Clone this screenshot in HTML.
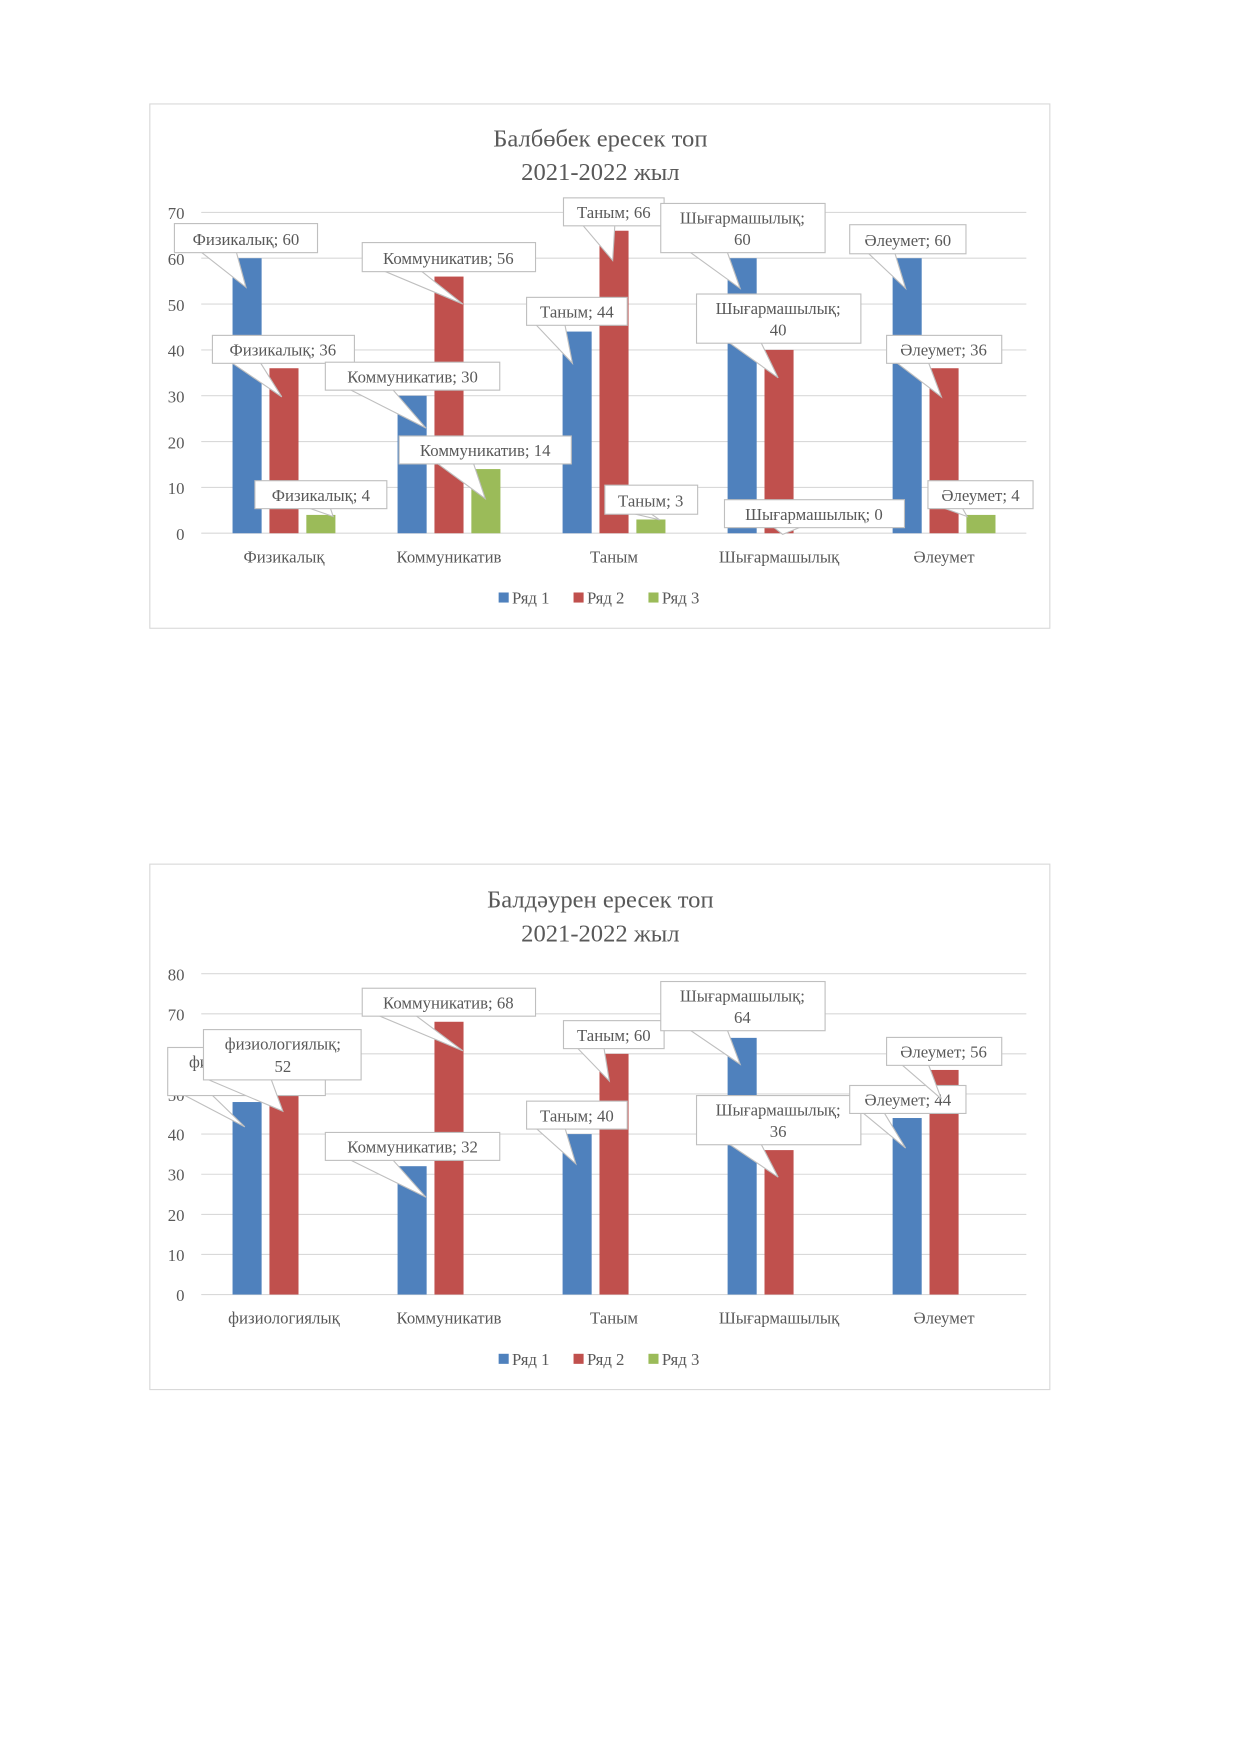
<!DOCTYPE html>
<html><head><meta charset="utf-8"><style>
html,body{margin:0;padding:0;background:#fff;}
svg{display:block;}
text{font-family:"Liberation Serif",serif;fill:#595959;}
.t{font-size:22px;}
.a{font-size:15px;}
.c{font-size:15px;}
.g{stroke:#d9d9d9;stroke-width:1;}
.w{fill:#fff;stroke:#bfbfbf;stroke-width:1;}
.b{fill:#4f81bd}.r{fill:#c0504d}.n{fill:#9bbb59}
</style></head><body>
<svg width="1241" height="1754" viewBox="0 0 1110 1569" preserveAspectRatio="none">
<!-- CHART 1 -->
<rect x="134" y="93" width="805" height="469" fill="#fff" stroke="#d9d9d9"/>
<text class="t" x="537" y="131" text-anchor="middle">Балбөбек ересек топ</text>
<text class="t" x="537" y="161" text-anchor="middle">2021-2022 жыл</text>
<g class="g">
<line x1="180" x2="918" y1="190" y2="190"/><line x1="180" x2="918" y1="231" y2="231"/>
<line x1="180" x2="918" y1="272" y2="272"/><line x1="180" x2="918" y1="313" y2="313"/>
<line x1="180" x2="918" y1="354" y2="354"/><line x1="180" x2="918" y1="395" y2="395"/>
<line x1="180" x2="918" y1="436" y2="436"/><line x1="180" x2="918" y1="477" y2="477"/>
</g>
<g class="a" text-anchor="end">
<text x="165" y="196">70</text><text x="165" y="237">60</text><text x="165" y="278">50</text>
<text x="165" y="319">40</text><text x="165" y="360">30</text><text x="165" y="401">20</text>
<text x="165" y="442">10</text><text x="165" y="483">0</text>
</g>
<rect class="b" x="208" y="231" width="26" height="246"/><rect class="r" x="241" y="329.4" width="26" height="147.6"/><rect class="n" x="274" y="460.6" width="26" height="16.4"/>
<rect class="b" x="355.6" y="354" width="26" height="123"/><rect class="r" x="388.6" y="247.4" width="26" height="229.6"/><rect class="n" x="421.6" y="419.6" width="26" height="57.4"/>
<rect class="b" x="503.2" y="296.6" width="26" height="180.4"/><rect class="r" x="536.2" y="206.4" width="26" height="270.6"/><rect class="n" x="569.2" y="464.7" width="26" height="12.3"/>
<rect class="b" x="650.8" y="231" width="26" height="246"/><rect class="r" x="683.8" y="313" width="26" height="164"/>
<rect class="b" x="798.4" y="231" width="26" height="246"/><rect class="r" x="831.4" y="329.4" width="26" height="147.6"/><rect class="n" x="864.4" y="460.6" width="26" height="16.4"/>
<g class="c" text-anchor="middle">
<text x="254" y="503">Физикалық</text><text x="401.6" y="503">Коммуникатив</text><text x="549.2" y="503">Таным</text><text x="696.8" y="503">Шығармашылық</text><text x="844.4" y="503">Әлеумет</text>
</g>
<rect class="b" x="446" y="530" width="9" height="9"/><text class="c" x="458" y="540">Ряд 1</text>
<rect class="r" x="513" y="530" width="9" height="9"/><text class="c" x="525" y="540">Ряд 2</text>
<rect class="n" x="580" y="530" width="9" height="9"/><text class="c" x="592" y="540">Ряд 3</text>
<g class="c" text-anchor="middle">
<polygon class="w" points="178,224 211,224 220,257"/><rect class="w" x="156" y="200" width="128" height="26"/><text x="220" y="219">Физикалық; 60</text>
<polygon class="w" points="205,323 232,323 252,355"/><rect class="w" x="190" y="300" width="127" height="25"/><text x="253" y="318">Физикалық; 36</text>
<polygon class="w" points="272,453 295,453 298,462"/><rect class="w" x="228" y="430" width="118" height="25"/><text x="287" y="448">Физикалық; 4</text>
<polygon class="w" points="340,241 375,241 414,272"/><rect class="w" x="324" y="217" width="155" height="26"/><text x="401" y="236">Коммуникатив; 56</text>
<polygon class="w" points="310,347 350,347 381,383"/><rect class="w" x="291" y="324" width="156" height="25"/><text x="369" y="342">Коммуникатив; 30</text>
<polygon class="w" points="389,413 423,413 434,446"/><rect class="w" x="357" y="390" width="154" height="25"/><text x="434" y="408">Коммуникатив; 14</text>
<polygon class="w" points="520,200 550,200 548,233"/><rect class="w" x="504" y="177" width="90" height="25"/><text x="549" y="195">Таным; 66</text>
<polygon class="w" points="478,289 505,289 512,325"/><rect class="w" x="471" y="266" width="90" height="25"/><text x="516" y="284">Таным; 44</text>
<polygon class="w" points="560,458 580,458 590,465"/><rect class="w" x="541" y="434" width="83" height="26"/><text x="582" y="453">Таным; 3</text>
<polygon class="w" points="615,224 650,224 662,258"/><rect class="w" x="591" y="182" width="147" height="44"/><text x="664" y="200">Шығармашылық;</text><text x="664" y="219">60</text>
<polygon class="w" points="650,305 680,305 696,338"/><rect class="w" x="623" y="263" width="147" height="44"/><text x="696" y="281">Шығармашылық;</text><text x="696" y="300">40</text>
<polygon class="w" points="690,470 720,470 700,478"/><rect class="w" x="648" y="447" width="161" height="25"/><text x="728" y="465">Шығармашылық; 0</text>
<polygon class="w" points="775,225 800,225 810,258"/><rect class="w" x="760" y="201" width="104" height="26"/><text x="812" y="220">Әлеумет; 60</text>
<polygon class="w" points="800,323 830,323 842,355"/><rect class="w" x="793" y="300" width="103" height="25"/><text x="844" y="318">Әлеумет; 36</text>
<polygon class="w" points="840,453 860,453 865,462"/><rect class="w" x="830" y="430" width="94" height="25"/><text x="877" y="448">Әлеумет; 4</text>
</g>

<!-- CHART 2 -->
<rect x="134" y="773" width="805" height="470" fill="#fff" stroke="#d9d9d9"/>
<text class="t" x="537" y="812" text-anchor="middle">Балдәурен ересек топ</text>
<text class="t" x="537" y="842" text-anchor="middle">2021-2022 жыл</text>
<g class="g">
<line x1="180" x2="918" y1="871" y2="871"/><line x1="180" x2="918" y1="906.9" y2="906.9"/>
<line x1="180" x2="918" y1="942.7" y2="942.7"/><line x1="180" x2="918" y1="978.6" y2="978.6"/>
<line x1="180" x2="918" y1="1014.5" y2="1014.5"/><line x1="180" x2="918" y1="1050.4" y2="1050.4"/>
<line x1="180" x2="918" y1="1086.3" y2="1086.3"/><line x1="180" x2="918" y1="1122.1" y2="1122.1"/>
<line x1="180" x2="918" y1="1158" y2="1158"/>
</g>
<g class="a" text-anchor="end">
<text x="165" y="877">80</text><text x="165" y="913">70</text><text x="165" y="949">60</text>
<text x="165" y="985">50</text><text x="165" y="1020">40</text><text x="165" y="1056">30</text>
<text x="165" y="1092">20</text><text x="165" y="1128">10</text><text x="165" y="1164">0</text>
</g>
<rect class="b" x="208" y="985.8" width="26" height="172.2"/><rect class="r" x="241" y="975" width="26" height="183"/>
<rect class="b" x="355.6" y="1043.2" width="26" height="114.8"/><rect class="r" x="388.6" y="914" width="26" height="244"/>
<rect class="b" x="503.2" y="1014.5" width="26" height="143.5"/><rect class="r" x="536.2" y="942.7" width="26" height="215.3"/>
<rect class="b" x="650.8" y="928.4" width="26" height="229.6"/><rect class="r" x="683.8" y="1028.8" width="26" height="129.2"/>
<rect class="b" x="798.4" y="1000.1" width="26" height="157.9"/><rect class="r" x="831.4" y="957.1" width="26" height="200.9"/>
<g class="c" text-anchor="middle">
<text x="254" y="1184">физиологиялық</text><text x="401.6" y="1184">Коммуникатив</text><text x="549.2" y="1184">Таным</text><text x="696.8" y="1184">Шығармашылық</text><text x="844.4" y="1184">Әлеумет</text>
</g>
<rect class="b" x="446" y="1211" width="9" height="9"/><text class="c" x="458" y="1221">Ряд 1</text>
<rect class="r" x="513" y="1211" width="9" height="9"/><text class="c" x="525" y="1221">Ряд 2</text>
<rect class="n" x="580" y="1211" width="9" height="9"/><text class="c" x="592" y="1221">Ряд 3</text>
<g class="c" text-anchor="middle">
<polygon class="w" points="156,975 185,975 219,1008"/><rect class="w" x="150" y="937" width="141" height="43"/><text x="221" y="955">физиологиялық;</text>
<polygon class="w" points="182,964 242,964 253,994"/><rect class="w" x="182" y="921" width="141" height="45"/><text x="253" y="939">физиологиялық;</text><text x="253" y="959">52</text>
<polygon class="w" points="335,907 370,907 414,940"/><rect class="w" x="324" y="884" width="155" height="25"/><text x="401" y="902">Коммуникатив; 68</text>
<polygon class="w" points="310,1036 350,1036 381,1071"/><rect class="w" x="291" y="1013" width="156" height="25"/><text x="369" y="1031">Коммуникатив; 32</text>
<polygon class="w" points="515,936 540,936 545,967"/><rect class="w" x="504" y="913" width="90" height="25"/><text x="549" y="931">Таным; 60</text>
<polygon class="w" points="478,1008 505,1008 515,1041"/><rect class="w" x="471" y="985" width="90" height="25"/><text x="516" y="1003">Таным; 40</text>
<polygon class="w" points="615,920 650,920 662,952"/><rect class="w" x="591" y="878" width="147" height="44"/><text x="664" y="896">Шығармашылық;</text><text x="664" y="915">64</text>
<polygon class="w" points="650,1022 680,1022 696,1053"/><rect class="w" x="623" y="980" width="147" height="44"/><text x="696" y="998">Шығармашылық;</text><text x="696" y="1017">36</text>
<polygon class="w" points="770,994 790,994 810,1027"/><rect class="w" x="760" y="971" width="104" height="25"/><text x="812" y="989">Әлеумет; 44</text>
<polygon class="w" points="805,951 830,951 842,983"/><rect class="w" x="793" y="928" width="103" height="25"/><text x="844" y="946">Әлеумет; 56</text>
</g>
</svg>
</body></html>
